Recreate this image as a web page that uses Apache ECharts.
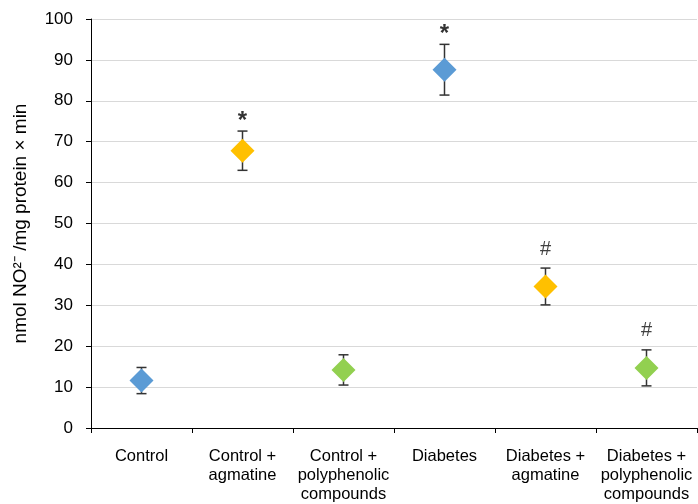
<!DOCTYPE html>
<html><head><meta charset="utf-8">
<script src="https://cdn.jsdelivr.net/npm/echarts@6/dist/echarts.min.js"></script>
<style>html,body{margin:0;padding:0;background:#fff}#c{width:698px;height:504px}</style>
</head><body><div id="c"></div>
<script>
var categories = ['Control', 'Control +\nagmatine', 'Control +\npolyphenolic\ncompounds', 'Diabetes', 'Diabetes +\nagmatine', 'Diabetes +\npolyphenolic\ncompounds'];
var means = [11.6, 67.8, 14.2, 87.6, 34.6, 14.7];
var errors = [3.2, 4.8, 3.7, 6.2, 4.5, 4.4];
var marks = ['', '*', '', '*', '#', '#'];
var colors = ['#5B9BD5', '#FFC000', '#92D050', '#5B9BD5', '#FFC000', '#92D050'];
var yTicks = [0, 10, 20, 30, 40, 50, 60, 70, 80, 90, 100];

var FONT = 'Liberation Sans, Arial, sans-serif';
var chart = echarts.init(document.getElementById('c'));
var errData = categories.map(function (c, i) { return [i, means[i] - errors[i], means[i] + errors[i], marks[i]]; });
var ptData = categories.map(function (c, i) { return { value: [i, means[i]], itemStyle: { color: colors[i], opacity: 1 } }; });

chart.setOption({
  animation: false,
  grid: { left: 91, right: 1, top: 19, bottom: 72 },
  xAxis: {
    type: 'category', data: categories, boundaryGap: true,
    axisLine: { lineStyle: { color: '#000', width: 1 } },
    axisTick: { show: true, length: 5, lineStyle: { color: '#000' } },
    axisLabel: { color: '#000', fontSize: 16.5, fontFamily: FONT, lineHeight: 19, margin: 19, interval: 0 },
    splitLine: { show: false }
  },
  yAxis: {
    type: 'value', min: yTicks[0], max: yTicks[yTicks.length - 1], interval: 10,
    name: 'nmol NO\u00B2\u207B /mg protein \u00D7 min', nameLocation: 'middle', nameGap: 61, nameRotate: 90,
    nameTextStyle: { color: '#000', fontSize: 19, fontFamily: FONT },
    axisLine: { show: true, lineStyle: { color: '#000', width: 1 } },
    axisTick: { show: true, length: 5, lineStyle: { color: '#000' } },
    axisLabel: { color: '#000', fontSize: 17, fontFamily: FONT, margin: 18 },
    splitLine: { lineStyle: { color: '#d9d9d9', width: 1 } }
  },
  series: [
    {
      type: 'custom', data: errData, z: 2,
      renderItem: function (params, api) {
        var x = api.value(0);
        var lo = api.coord([x, api.value(1)]);
        var hi = api.coord([x, api.value(2)]);
        var m = errData[params.dataIndex][3];
        var hw = 5;
        var style = { stroke: '#333', lineWidth: 1.5 };
        var children = [
          { type: 'line', shape: { x1: hi[0], y1: hi[1], x2: lo[0], y2: lo[1] }, style: style },
          { type: 'line', shape: { x1: hi[0] - hw, y1: hi[1], x2: hi[0] + hw, y2: hi[1] }, style: style },
          { type: 'line', shape: { x1: lo[0] - hw, y1: lo[1], x2: lo[0] + hw, y2: lo[1] }, style: style }
        ];
        if (m === '*') {
          children.push({ type: 'text', style: { text: m, x: hi[0], y: hi[1] + 2, align: 'center', verticalAlign: 'bottom', fill: '#333', fontSize: 24, fontWeight: 'bold', fontFamily: FONT } });
        } else if (m) {
          children.push({ type: 'text', style: { text: m, x: hi[0], y: hi[1] - 9, align: 'center', verticalAlign: 'bottom', fill: '#404040', fontSize: 20, fontFamily: FONT } });
        }
        return { type: 'group', children: children };
      }
    },
    {
      type: 'scatter', data: ptData, symbol: 'diamond', symbolSize: [24, 24], z: 3
    }
  ]
});
</script></body></html>
